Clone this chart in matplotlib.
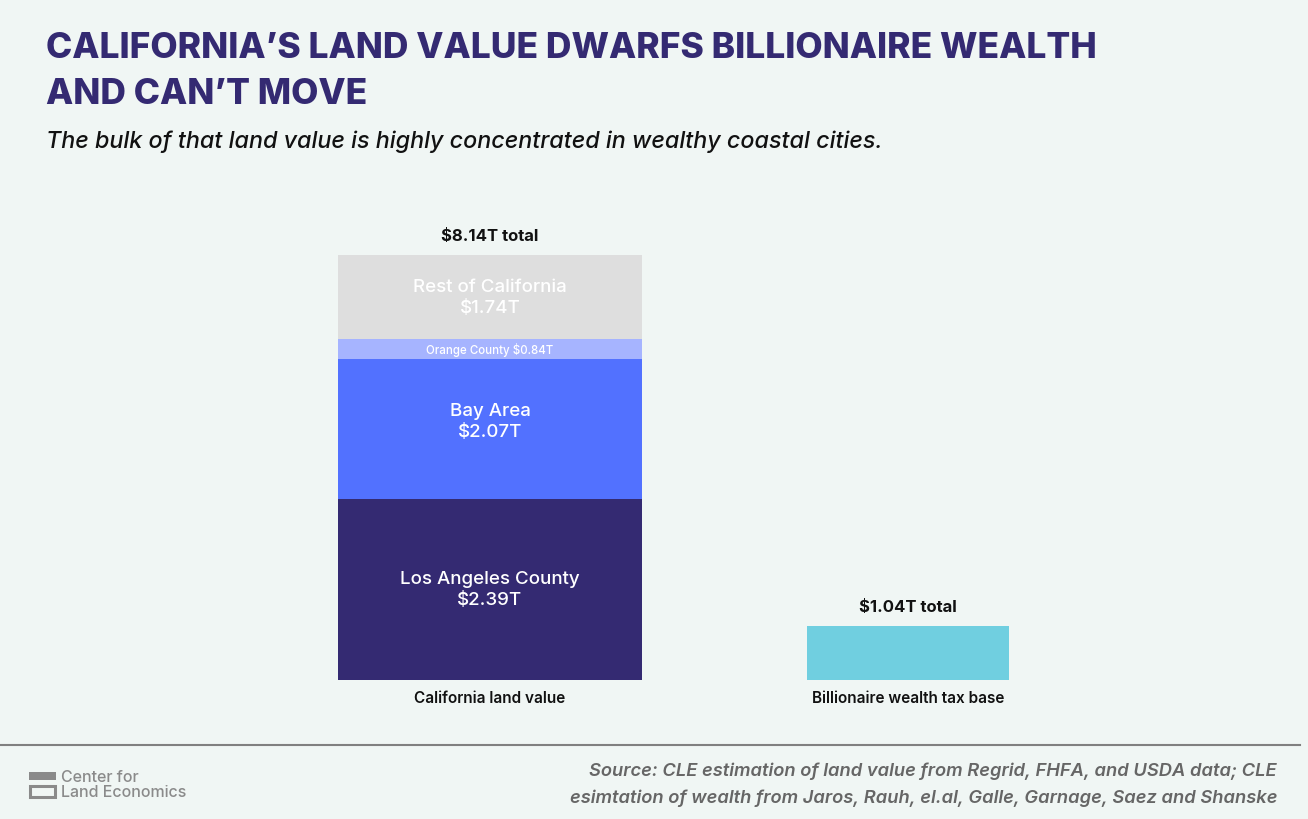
import matplotlib.pyplot as plt
from matplotlib.patches import Rectangle
import numpy as np

plt.rcParams['font.family'] = ['Inter', 'DejaVu Sans']

W, H = 1308, 820
BG = "#f0f6f4"
PURPLE = "#342a72"

# stacked segments of the California bar (heights as drawn, in $T)
segments = ["Los Angeles County", "Bay Area", "Orange County", "Rest of California"]
segment_heights = [3.47, 2.68, 0.38, 1.61]
segment_labels = ["Los Angeles County\n$2.39T", "Bay Area\n$2.07T",
                  "Orange County $0.84T", "Rest of California\n$1.74T"]
segment_colors = [PURPLE, "#5271ff", "#a6b4ff", "#dedede"]
label_shift = [0, 8, 0, 0]  # px nudge upward, Bay Area label sits above centre

categories = ["California land value", "Billionaire wealth tax base"]
wealth_value = [1.04]
total_labels = ["$8.14T total", "$1.04T total"]


def px(x, y):
    # figure pixel (from top-left) -> figure fraction
    return x / W, 1 - y / H


fig = plt.figure(figsize=(W / 100, H / 100), dpi=100)
fig.patch.set_facecolor(BG)

# axes: x from px 281 to 1117, y from px 681 (zero) up 481 px
ax = fig.add_axes([281 / W, (H - 681) / H, 836 / W, 481 / H])
ax.set_facecolor(BG)
ax.set_xlim(-0.5, 1.5)
ax.set_ylim(0, 481 / 52.2)
ax.axis("off")

bottom = 0
for h, lab, col, dy in zip(segment_heights, segment_labels, segment_colors, label_shift):
    ax.bar(0, h, bottom=bottom, width=0.727, color=col, linewidth=0)
    small = "\n" not in lab
    ax.annotate(lab, (0, bottom + h / 2), xytext=(0, dy), textcoords="offset pixels",
                ha="center", va="center", color="white",
                fontsize=8.3 if small else 13.5, fontweight="medium",
                linespacing=1.3)
    bottom += h
cal_total = bottom

ax.bar(1, wealth_value[0], width=0.483, color="#70cfe0", linewidth=0)

for x, top, lab in zip([0, 1], [cal_total, wealth_value[0]], total_labels):
    ax.annotate(lab, (x, top), xytext=(0, 12), textcoords="offset pixels",
                ha="center", va="bottom", fontsize=12, fontweight="bold",
                color="#111111")

for x, cat in zip([0, 1], categories):
    ax.annotate(cat, (x, 0), xytext=(0, -10), textcoords="offset pixels",
                ha="center", va="top", fontsize=11, fontweight="semibold",
                color="#111111")

# title and subtitle
fig.text(*px(46, 49), "CALIFORNIA\u2019S LAND VALUE DWARFS BILLIONAIRE WEALTH",
         ha="left", va="center", fontsize=25.5, fontweight="heavy", color=PURPLE)
fig.text(*px(46, 95), "AND CAN\u2019T MOVE",
         ha="left", va="center", fontsize=25.5, fontweight="heavy", color=PURPLE)
fig.text(*px(46, 142), "The bulk of that land value is highly concentrated in wealthy coastal cities.",
         ha="left", va="center", fontsize=16.8, style="italic", fontweight="medium",
         color="#111111")

# footer rule
fig.add_artist(plt.Line2D([0, 1300 / W], [1 - 746 / H] * 2, color="#808080", lw=1.5))

# logo
fig.add_artist(Rectangle(px(29, 781), 27 / W, 8 / H, color="#8a8a8a", lw=0))
fig.add_artist(Rectangle(px(30, 798), 25 / W, 11 / H, fill=False, ec="#8a8a8a", lw=2.2))
fig.text(*px(61, 778), "Center for", ha="left", va="center", fontsize=11.5,
         fontweight="medium", color="#8a8a8a")
fig.text(*px(61, 793), "Land Economics", ha="left", va="center", fontsize=11.5,
         fontweight="medium", color="#8a8a8a")

# source
fig.text(*px(1277, 771), "Source: CLE estimation of land value from Regrid, FHFA, and USDA data; CLE",
         ha="right", va="center", fontsize=13.2, style="italic", fontweight="semibold", color="#666666")
fig.text(*px(1277, 798), "esimtation of wealth from Jaros, Rauh, el.al, Galle, Garnage, Saez and Shanske",
         ha="right", va="center", fontsize=13.2, style="italic", fontweight="semibold", color="#666666")

fig.savefig("out.png", dpi=100, facecolor=BG)
